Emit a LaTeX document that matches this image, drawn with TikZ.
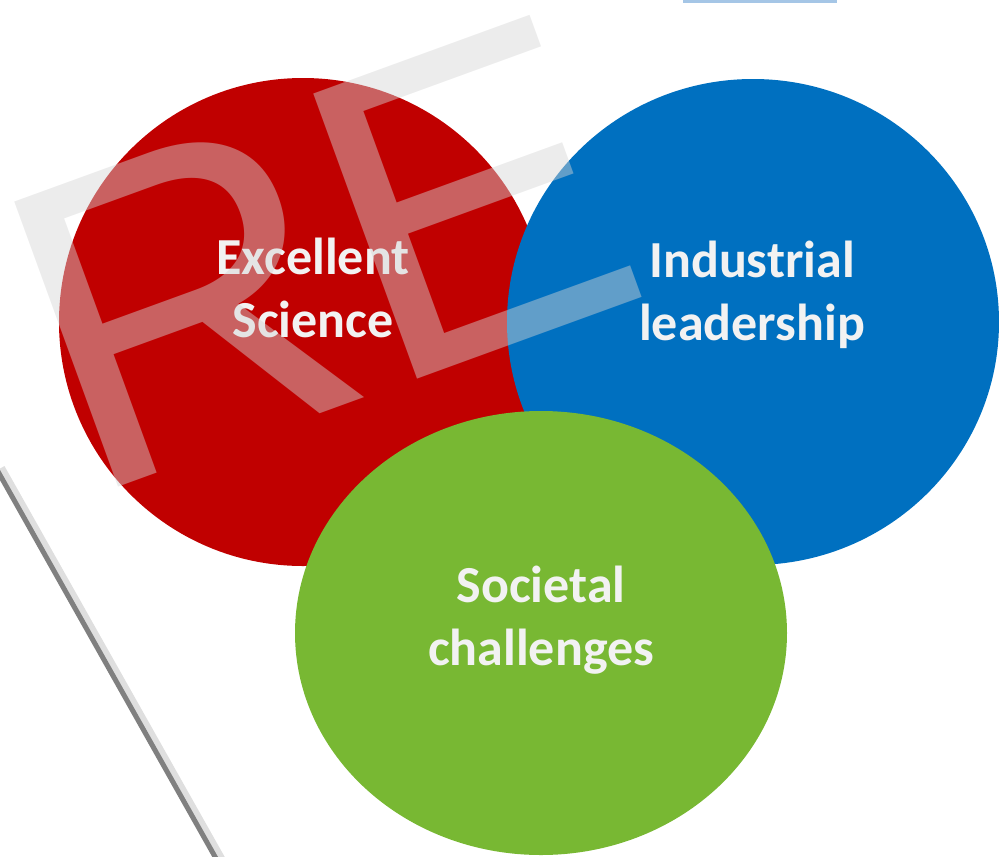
\documentclass[tikz,border=0pt]{standalone}
\usepackage{fontspec}
\setmainfont{Carlito}
\newfontfamily\stampfont{Liberation Sans}
\usepackage{tikz}
\usetikzlibrary{positioning, shapes.geometric}
\definecolor{sciRed}{HTML}{C00000}
\definecolor{indBlue}{HTML}{0070C0}
\definecolor{socGreen}{HTML}{78B833}
\definecolor{txtGray}{HTML}{F2F2F2}
\definecolor{wmGray}{HTML}{D5D5D5}
\definecolor{barBlue}{HTML}{A5C6E6}
\definecolor{edgeGray}{HTML}{808080}

\begin{document}
\begin{tikzpicture}[x=1pt, y=-1pt,
  blob/.style={ellipse, inner sep=0, outer sep=0},
  lbl/.style={text=txtGray, font=\fontsize{52}{63}\selectfont\bfseries, align=center, inner sep=0}]
\useasboundingbox (0,0) rectangle (999,857);
% page edge %
\coordinate (e1) at (-4,468);
\coordinate (e2) at (218,862);
\draw[line width=8, edgeGray!25] ([xshift=5]e1) -- ([xshift=5]e2);
\draw[line width=5, edgeGray] (e1) -- (e2);
\fill[barBlue] (683,0) rectangle (837,2.5);
% circles %
\node[blob, fill=sciRed, minimum width=488, minimum height=488] (sci) at (303,322) {};
\node[blob, fill=indBlue, minimum width=492, minimum height=486] (ind) at (753,322) {};
\node[blob, fill=socGreen, minimum width=492, minimum height=444] (soc) at (541,633) {};
% labels %
\node[lbl] (scit) at (313,288) {Excellent\\Science};
\node[lbl] (indt) at (752,295) {Industrial\\leadership};
\node[lbl] (soct) at (541,620) {Societal\\challenges};
% watermark %
\node[anchor=base west, rotate=20, inner sep=0, text=wmGray, text opacity=0.46,
  font=\stampfont\fontsize{441}{450}\selectfont] (wm) at (84,500) {RE};
\end{tikzpicture}
\end{document}
